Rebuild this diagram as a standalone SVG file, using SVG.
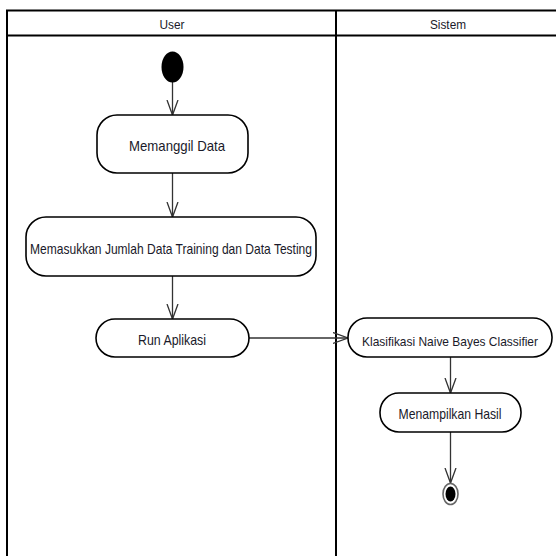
<svg xmlns="http://www.w3.org/2000/svg" width="556" height="556" viewBox="0 0 556 556">
<style>
.lane{fill:none;stroke:#000;stroke-width:2}
.act{fill:#fff;stroke:#000;stroke-width:1.6}
.t{font-family:"Liberation Sans",Arial,sans-serif;font-size:14.5px;fill:#1a1a2a;text-anchor:middle;dominant-baseline:central}
.s{font-size:13px}
.h{font-family:"Liberation Sans",Arial,sans-serif;font-size:13px;fill:#1a1a2a;text-anchor:middle;dominant-baseline:central}
.c{fill:none;stroke:#333;stroke-width:1.3}
</style>
<defs>
<marker id="open" markerUnits="userSpaceOnUse" markerWidth="18" markerHeight="14" refX="15" refY="6" orient="auto">
<path d="M0,0.5 L15,6 L0,11.5" fill="none" stroke="#333" stroke-width="1.3"/>
</marker>
</defs>
<rect width="556" height="556" fill="#fff"/>
<g id="lanes">
<path class="lane" d="M7,560 V10.5 H560 M7,35.5 H560 M336,10.5 V560"/>
<text class="h" x="172" y="24" textLength="25" lengthAdjust="spacingAndGlyphs">User</text>
<text class="h" x="448" y="24" textLength="36" lengthAdjust="spacingAndGlyphs">Sistem</text>
</g>
<g id="connectors">
<path class="c" d="M172.5,82 V115" marker-end="url(#open)"/>
<path class="c" d="M172.5,173 V217" marker-end="url(#open)"/>
<path class="c" d="M172.5,276 V319" marker-end="url(#open)"/>
<path class="c" d="M249,338 H348" marker-end="url(#open)"/>
<path class="c" d="M450.5,357 V393" marker-end="url(#open)"/>
<path class="c" d="M450.5,432 V483" marker-end="url(#open)"/>
</g>
<g id="start">
<ellipse cx="172.5" cy="67" rx="11" ry="15.5" fill="#000"/>
</g>
<g id="memanggil">
<rect class="act" x="97" y="115" width="151" height="58" rx="20"/>
<text class="t" x="177" y="146" textLength="96" lengthAdjust="spacingAndGlyphs">Memanggil Data</text>
</g>
<g id="memasukkan">
<rect class="act" x="26" y="217" width="290" height="59" rx="20"/>
<text class="t" x="171" y="249" textLength="282" lengthAdjust="spacingAndGlyphs">Memasukkan Jumlah Data Training dan Data Testing</text>
</g>
<g id="run">
<rect class="act" x="96" y="319" width="153" height="38" rx="19"/>
<text class="t" x="172" y="340" textLength="68" lengthAdjust="spacingAndGlyphs">Run Aplikasi</text>
</g>
<g id="klasifikasi">
<rect class="act" x="348" y="318" width="204" height="39" rx="19"/>
<text class="t s" x="450" y="341" textLength="176" lengthAdjust="spacingAndGlyphs">Klasifikasi Naive Bayes Classifier</text>
</g>
<g id="menampilkan">
<rect class="act" x="380" y="393" width="141" height="39" rx="19"/>
<text class="t" x="450" y="414" textLength="103" lengthAdjust="spacingAndGlyphs">Menampilkan Hasil</text>
</g>
<g id="end">
<ellipse cx="450.5" cy="494" rx="7.5" ry="10.5" fill="#fff" stroke="#666" stroke-width="1.6"/>
<ellipse cx="450.5" cy="494" rx="5" ry="7.5" fill="#000"/>
</g>
</svg>
